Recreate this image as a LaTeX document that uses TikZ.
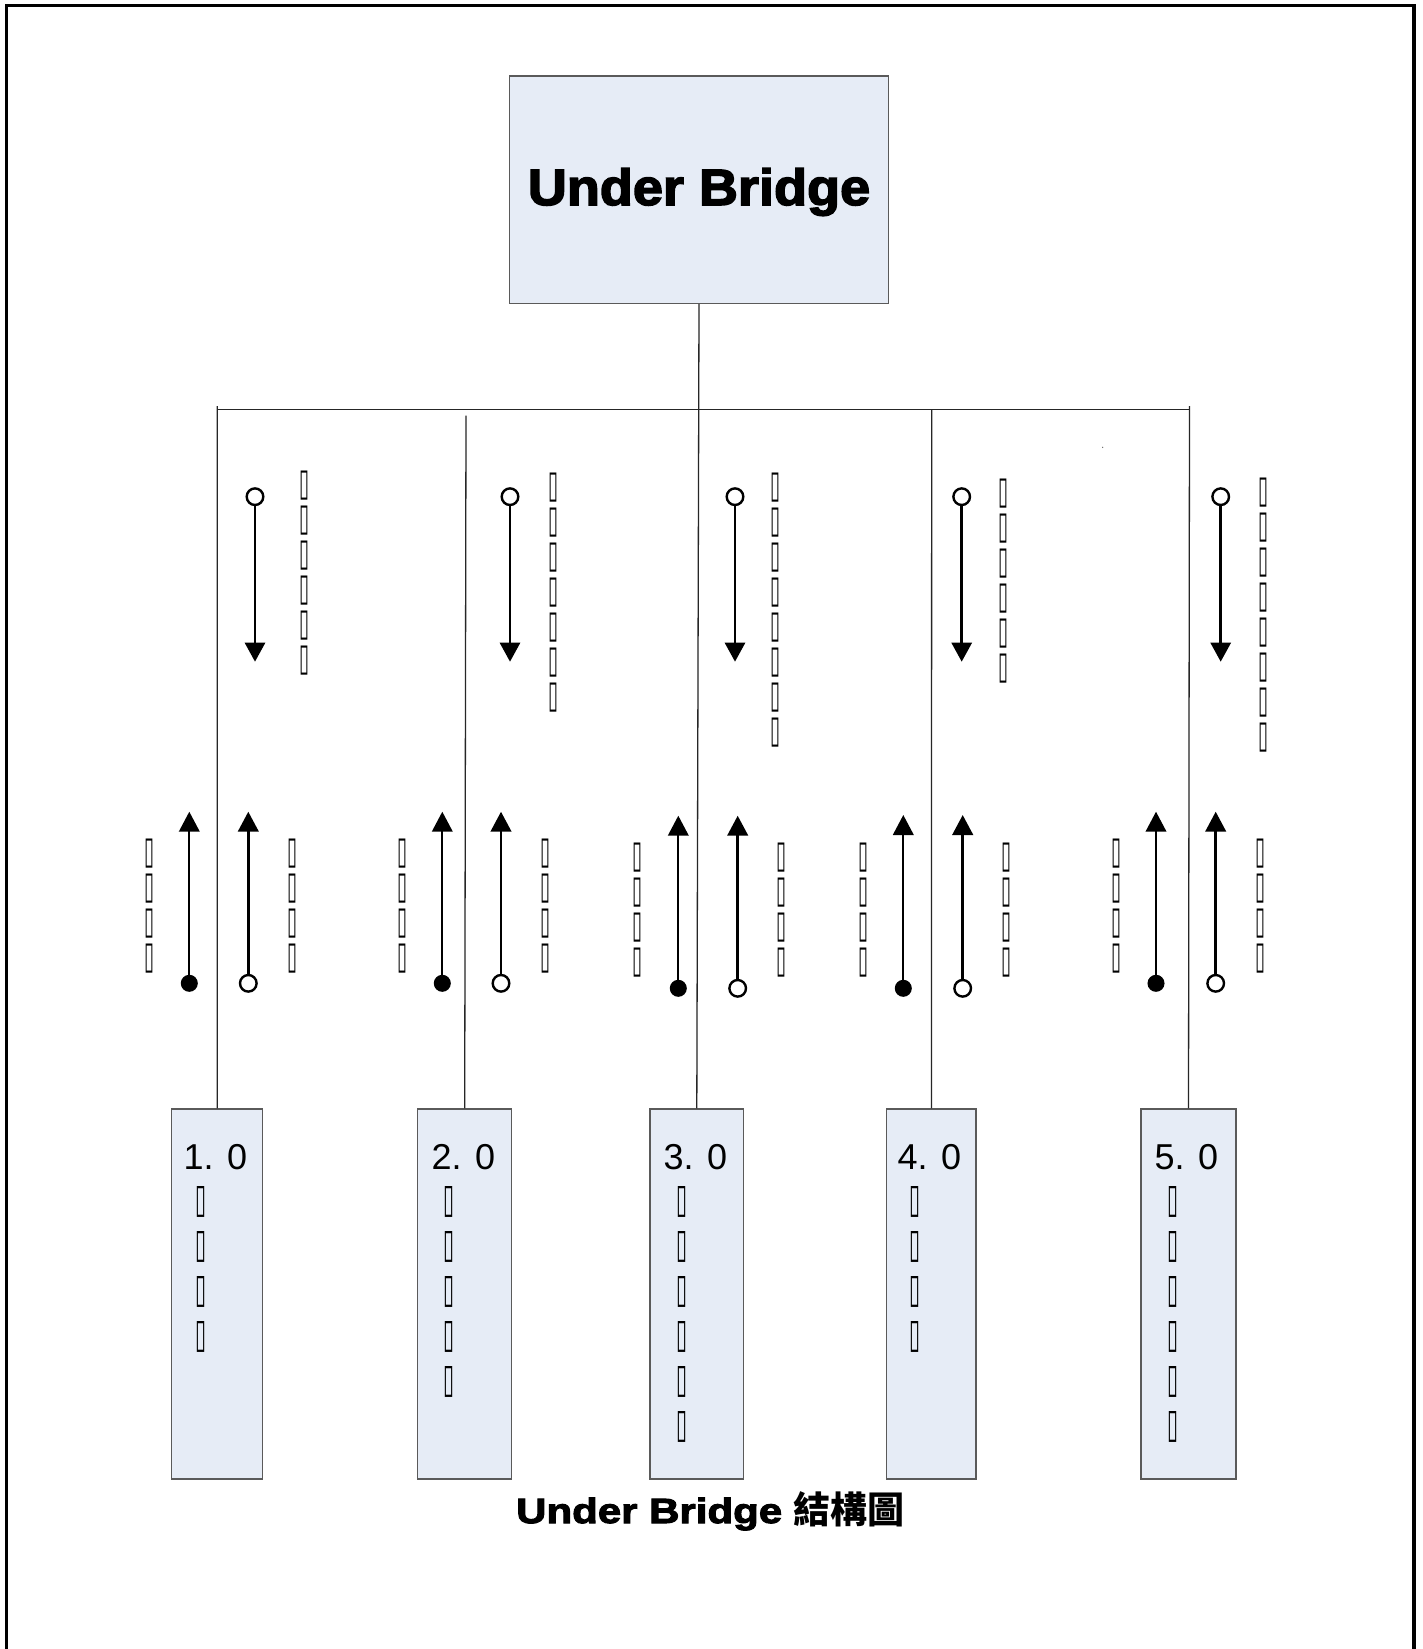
\documentclass[tikz,border=0pt]{standalone}
\usepackage{fontspec}
\usepackage{graphicx}
\setmainfont{Liberation Sans}
\newfontfamily\titlef[FakeStretch=1.06,FakeBold=3]{Liberation Sans Bold}
\newfontfamily\captf[FakeStretch=1.2,FakeBold=3]{Liberation Sans Bold}
\newfontfamily\cjkf{Noto Sans CJK TC}
\newfontfamily\symf{DejaVu Sans}
\usetikzlibrary{arrows.meta}
\definecolor{boxfill}{RGB}{230,236,246}
\definecolor{boxline}{RGB}{90,90,90}
\newcommand\Ts{\resizebox{10pt}{24.5pt}{\symf ▯}}
\newcommand\Tb{\resizebox{11pt}{26pt}{\symf ▯}}
\begin{document}
\begin{tikzpicture}[x=1pt,y=-1pt,
 box/.style={draw=boxline, line width=1.4pt, fill=boxfill, inner sep=0pt},
 conn/.style={line width=1.3pt, draw=black!85},
 dnarr/.style={line width=2.8pt, {Circle[open,length=19pt,line width=2.4pt]}-{Triangle[length=19pt,width=20pt]}},
 upo/.style={line width=2.8pt, {Circle[open,length=19pt,line width=2.4pt]}-{Triangle[length=20pt,width=20.5pt]}},
 upf/.style={line width=2.3pt, {Circle[length=17pt]}-{Triangle[length=20pt,width=20.5pt]}},
 tcol/.style={anchor=north, inner sep=0pt, align=center, font={\fontsize{20pt}{35pt}\selectfont}},
 tbox/.style={anchor=north, inner sep=0pt, align=center, font={\fontsize{20pt}{45pt}\selectfont}},
 lbl/.style={anchor=base west, inner sep=0pt, font={\fontsize{36pt}{40pt}\selectfont}},
]
\useasboundingbox[fill=white] (0,0) rectangle (1422,1649);
% outer frame
\draw[line width=3.5pt] (6.7,1652) -- (6.7,5.7) -- (1414,5.7) -- (1414,1652);

% top box
\node[box, minimum width=379.4pt, minimum height=227.3pt] (top) at (699,189.65) {};
\node[anchor=base, inner sep=0pt, font={\titlef\fontsize{51pt}{56pt}\selectfont}] (title) at (699,205) {Under Bridge};

% bottom boxes
\node[box, minimum width=91pt, minimum height=370pt] (b1) at (217.2,1294) {};
\node[box, minimum width=94pt, minimum height=370pt] (b2) at (464.7,1294) {};
\node[box, minimum width=93.6pt, minimum height=370pt] (b3) at (696.8,1294) {};
\node[box, minimum width=89.3pt, minimum height=370pt] (b4) at (931.4,1294) {};
\node[box, minimum width=94.7pt, minimum height=370pt] (b5) at (1188.5,1294) {};

% connectors
\coordinate (busL) at (217.3,409.5);
\coordinate (busR) at (1190,409.5);
\coordinate (c1) at (217.3,406);
\coordinate (c2) at (466,415.5);
\coordinate (c4) at (931.7,409.5);
\coordinate (c5) at (1189.5,406);
\draw[conn] (busL) -- (busR);
\draw[conn] (top.south) -- (b3.north);
\draw[conn] (c1) -- (b1.north);
\draw[conn] (c2) -- (b2.north);
\draw[conn] (c4) -- (b4.north);
\draw[conn] (c5) -- (b5.north);
\fill[black!60] (1102.7,447.3) circle (0.7pt);

% labels in boxes
\node[lbl] (l1) at (183.5,1169) {1. 0};
\node[lbl] (l2) at (431.5,1169) {2. 0};
\node[lbl] (l3) at (663.5,1169) {3. 0};
\node[lbl] (l4) at (897.5,1169) {4. 0};
\node[lbl] (l5) at (1154.5,1169) {5. 0};
\node[tbox] (bt1) at (201,1186.7) {\Tb\\\Tb\\\Tb\\\Tb};
\node[tbox] (bt2) at (449.3,1186.7) {\Tb\\\Tb\\\Tb\\\Tb\\\Tb};
\node[tbox] (bt3) at (681.6,1186.7) {\Tb\\\Tb\\\Tb\\\Tb\\\Tb\\\Tb};
\node[tbox] (bt4) at (915,1186.7) {\Tb\\\Tb\\\Tb\\\Tb};
\node[tbox] (bt5) at (1172.8,1186.7) {\Tb\\\Tb\\\Tb\\\Tb\\\Tb\\\Tb};

% down arrows
\foreach \i/\x in {1/255,2/510,3/735,4/961.7,5/1220.7}{
  \coordinate (ds\i) at (\x,487.2);
  \coordinate (de\i) at (\x,661.7);
  \draw[dnarr] (ds\i) -- (de\i);
}
\node[tcol] (dt1) at (304,470.7) {\Ts\\\Ts\\\Ts\\\Ts\\\Ts\\\Ts};
\node[tcol] (dt2) at (553.7,472.7) {\Ts\\\Ts\\\Ts\\\Ts\\\Ts\\\Ts\\\Ts};
\node[tcol] (dt3) at (775.7,472.7) {\Ts\\\Ts\\\Ts\\\Ts\\\Ts\\\Ts\\\Ts\\\Ts};
\node[tcol] (dt4) at (1003.3,478.3) {\Ts\\\Ts\\\Ts\\\Ts\\\Ts\\\Ts};
\node[tcol] (dt5) at (1263.3,477.3) {\Ts\\\Ts\\\Ts\\\Ts\\\Ts\\\Ts\\\Ts\\\Ts};

% up arrows
\foreach \i/\xf/\xo/\yb/\yt in {1/189.3/248.3/983.3/811.7,2/442.3/501/983.3/811.7,3/678.3/737.7/988.3/815.7,4/903.3/962.7/988.3/815,5/1156/1215.7/983.3/811.7}{
  \coordinate (ufs\i) at (\xf,\yb+8.5);
  \coordinate (ufe\i) at (\xf,\yt);
  \coordinate (uos\i) at (\xo,\yb+9.5);
  \coordinate (uoe\i) at (\xo,\yt);
  \draw[upf] (ufs\i) -- (ufe\i);
  \draw[upo] (uos\i) -- (uoe\i);
}
\node[tcol] (ul1) at (149,839) {\Ts\\\Ts\\\Ts\\\Ts};
\node[tcol] (ul2) at (402.3,838.3) {\Ts\\\Ts\\\Ts\\\Ts};
\node[tcol] (ul3) at (637.7,842.3) {\Ts\\\Ts\\\Ts\\\Ts};
\node[tcol] (ul4) at (863.3,842.3) {\Ts\\\Ts\\\Ts\\\Ts};
\node[tcol] (ul5) at (1116.7,838.3) {\Ts\\\Ts\\\Ts\\\Ts};
\node[tcol] (ur1) at (292.3,839) {\Ts\\\Ts\\\Ts\\\Ts};
\node[tcol] (ur2) at (545.7,838.3) {\Ts\\\Ts\\\Ts\\\Ts};
\node[tcol] (ur3) at (781.7,842.3) {\Ts\\\Ts\\\Ts\\\Ts};
\node[tcol] (ur4) at (1006.7,842.3) {\Ts\\\Ts\\\Ts\\\Ts};
\node[tcol] (ur5) at (1260,838.3) {\Ts\\\Ts\\\Ts\\\Ts};

% caption
\node[anchor=base west, inner sep=0pt, font={\captf\fontsize{35pt}{40pt}\selectfont}] (cap) at (516,1523) {Under Bridge\hspace{11pt}{\cjkf\bfseries\fontsize{37pt}{40pt}\selectfont 結構圖}};
\end{tikzpicture}
\end{document}
